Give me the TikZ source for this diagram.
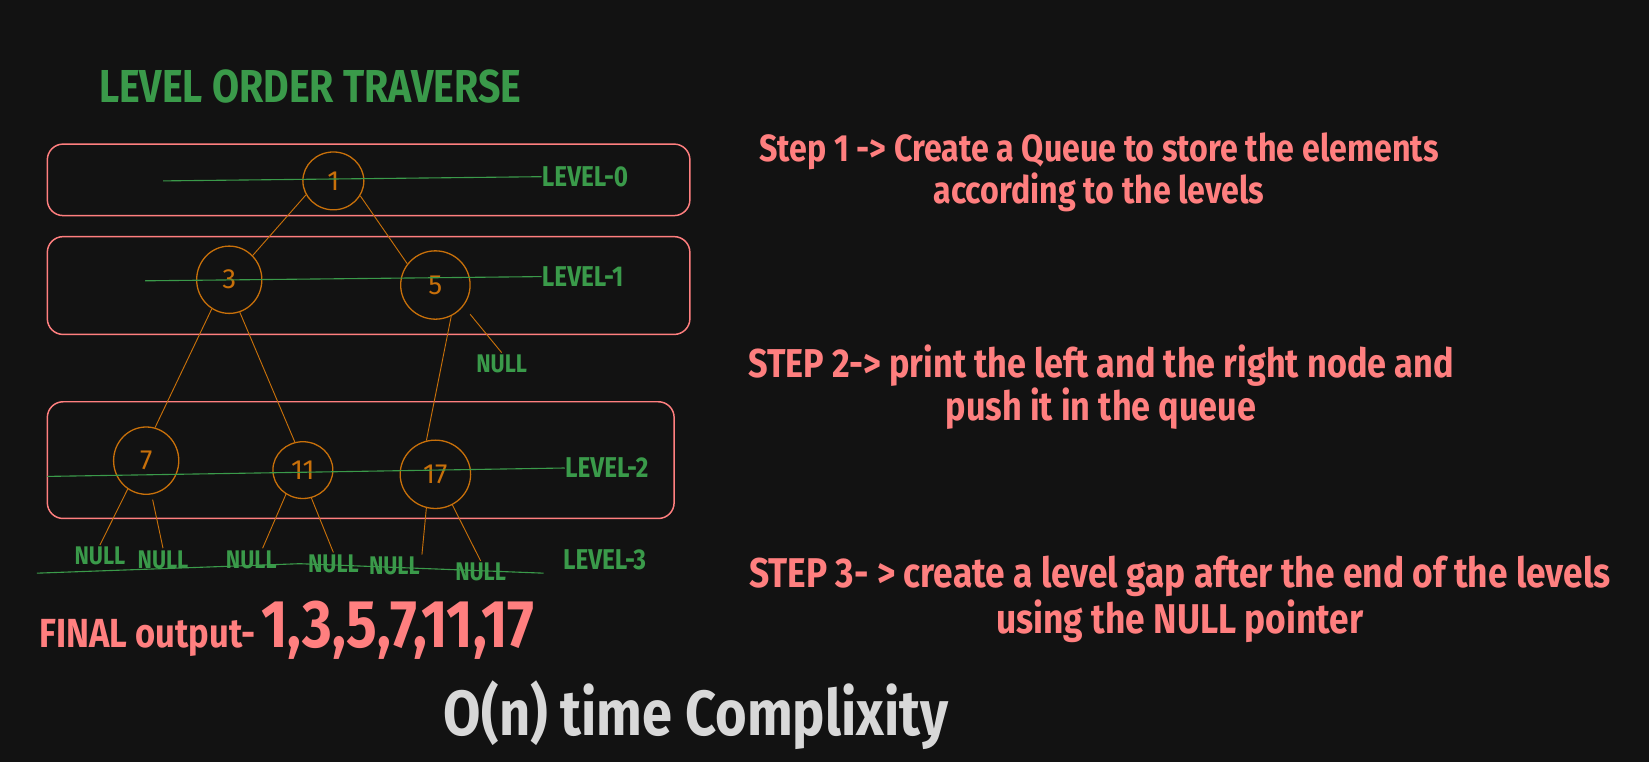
\documentclass[tikz,border=0pt]{standalone}
\usepackage{fontspec}
\usetikzlibrary{shapes.geometric, positioning}
\setmainfont{Fira Sans}
\newfontfamily\handfont[FakeStretch=0.85]{Fira Sans}
\definecolor{bgdark}{HTML}{121212}
\definecolor{lvlgreen}{HTML}{3A9A4A}
\definecolor{salmon}{HTML}{FF7F7F}
\definecolor{nodeorange}{HTML}{C8700A}
\definecolor{lightgrey}{HTML}{D8D8D8}

\begin{document}
\begin{tikzpicture}[x=0.02cm, y=-0.02cm,
    treenode/.style={ellipse, draw=nodeorange, text=nodeorange, line width=0.7pt, inner sep=0pt, font=\fontsize{15}{15}\selectfont},
    levelbox/.style={draw=salmon, rounded corners=0.3cm, line width=0.8pt},
    branch/.style={draw=nodeorange, line width=0.5pt},
    levelline/.style={draw=lvlgreen, line width=0.6pt},
    lvl/.style={text=lvlgreen, inner sep=0pt, font=\handfont\bfseries\fontsize{15.5}{15.5}\selectfont},
    nullbox/.style={lvl, inner sep=1pt, font=\handfont\bfseries\fontsize{13.8}{13.8}\selectfont},
    steptext/.style={text=salmon, align=center, inner sep=0pt, font=\handfont\bfseries\fontsize{20.5}{22.5}\selectfont}]
    \fill[bgdark] (0,0) rectangle (1568,725);

    % Title
    \node (title) at (295,82) [text=lvlgreen, font=\handfont\bfseries\fontsize{25}{25}\selectfont] {LEVEL ORDER TRAVERSE};

    % Level boxes
    \draw[levelbox] (45,137) rectangle (656,205);
    \draw[levelbox] (45,225) rectangle (656,318);
    \draw[levelbox] (45,382) rectangle (641,493);

    % Tree nodes
    \node (n1) at (317,172) [treenode, minimum width=1.16cm, minimum height=1.1cm] {1};
    \node (n3) at (218,266) [treenode, minimum width=1.24cm, minimum height=1.28cm] {3};
    \node (n5) at (414,271) [treenode, minimum width=1.32cm, minimum height=1.3cm] {5};
    \node (n7) at (139,438) [treenode, minimum width=1.24cm, minimum height=1.28cm] {7};
    \node (n11) at (288,447) [treenode, minimum width=1.14cm, minimum height=1.08cm] {11};
    \node (n17) at (414,451) [treenode, minimum width=1.34cm, minimum height=1.3cm] {17};

    % NULL leaves
    \node (nullA) at (477,346) [nullbox] {NULL};
    \node (nullB) at (95,529) [nullbox] {NULL};
    \node (nullC) at (155,532) [nullbox] {NULL};
    \node (nullD) at (239,532) [nullbox] {NULL};
    \node (nullE) at (317,536) [nullbox] {NULL};
    \node (nullF) at (375,538) [nullbox] {NULL};
    \node (nullG) at (457,544) [nullbox] {NULL};

    % Branches
    \draw[branch] (n1.-153) -- (n3.46);
    \draw[branch] (n1.-29) -- (n5.143);
    \draw[branch] (n3.-121) -- (n7.75);
    \draw[branch] (n3.-72) -- (n11.106);
    \draw[branch] (n5.-63) -- (n17.105);
    \draw[branch, shorten <=0.2cm] (n5.-37) -- (nullA.north);
    \draw[branch] (n7.-123) -- (nullB.north);
    \draw[branch, shorten <=0.1cm] (n7.-81) -- (nullC.north);
    \draw[branch] (n11.-125) -- (nullD.45);
    \draw[branch] (n11.-73) -- (nullE.north);
    \draw[branch] (n17.-105) -- (nullF.north east);
    \draw[branch] (n17.-61) -- (nullG.north);

    % Level labels and lines
    \node (lvl0) at (515,168) [lvl, anchor=west] {LEVEL-0};
    \node (lvl1) at (515,263) [lvl, anchor=west] {LEVEL-1};
    \node (lvl2) at (537,445) [lvl, anchor=west] {LEVEL-2};
    \node (lvl3) at (535,532) [lvl, anchor=west] {LEVEL-3};
    \coordinate (l0) at (155,172);
    \coordinate (l1) at (138,267);
    \coordinate (l2) at (45,453);
    \draw[levelline] (l0) -- (lvl0.west);
    \draw[levelline] (l1) -- (lvl1.west);
    \draw[levelline] (l2) -- (lvl2.west);
    \draw[levelline] (35,545) -- (285,536) -- (517,545);

    % Steps
    \node (step1) at (1045,164) [steptext] {Step 1 -\textgreater{} Create a Queue to store the elements\\according to the levels};
    \node (step2) at (1047,368) [steptext, font=\handfont\bfseries\fontsize{21.8}{23.5}\selectfont] {STEP 2-\textgreater{} print the left and the right node and\\push it in the queue};
    \node (step3) at (1122,570) [steptext, font=\handfont\bfseries\fontsize{22.5}{24.5}\selectfont] {STEP 3- \textgreater{} create a level gap after the end of the levels\\using the NULL pointer};

    % Result
    \node (finallbl) at (37,607) [anchor=west, inner sep=0pt, text=salmon, font=\handfont\bfseries\fontsize{22}{22}\selectfont] {FINAL output-};
    \node (finalseq) [base right=0.1cm of finallbl, inner sep=0pt, text=salmon, font=\handfont\bfseries\fontsize{36.5}{36.5}\selectfont] {1,3,5,7,11,17};
    \node (bigo) at (662,680) [text=lightgrey, font=\handfont\bfseries\fontsize{34.5}{34.5}\selectfont] {O(n) time Complixity};
\end{tikzpicture}
\end{document}
